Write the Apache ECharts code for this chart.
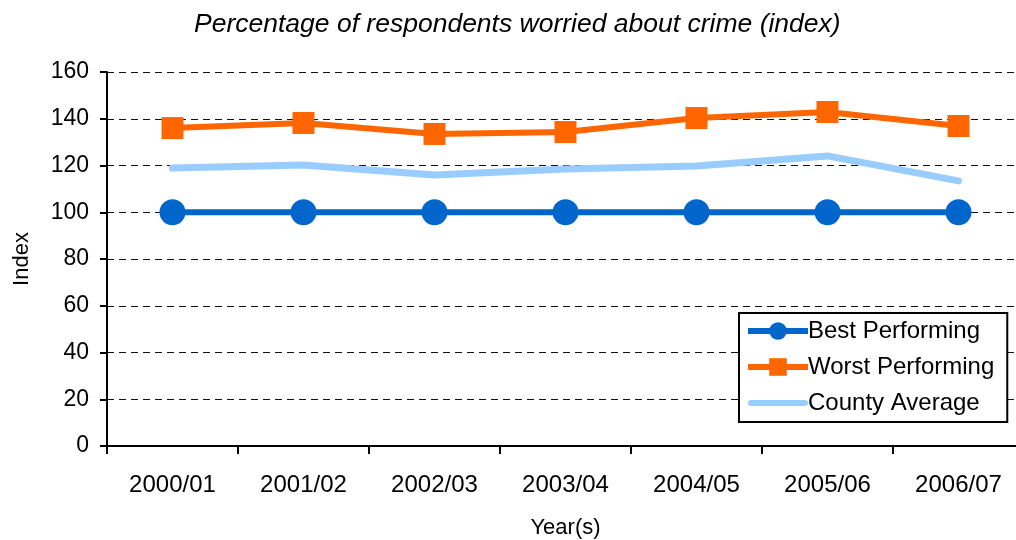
<!DOCTYPE html>
<html lang="en">
<head>
<meta charset="UTF-8">
<title>Worried about crime</title>
<script src="https://cdn.jsdelivr.net/npm/echarts@6/dist/echarts.min.js"></script>
<style>
  html, body { margin: 0; padding: 0; background: #fff; }
  #main { width: 1016px; height: 540px; }
</style>
</head>
<body>
<div id="main"></div>
<script>
  // categories and values
  var years = ['2000/01', '2001/02', '2002/03', '2003/04', '2004/05', '2005/06', '2006/07'];
  var bestPerforming = [100, 100, 100, 100, 100, 100, 100];
  var worstPerforming = [136, 138.2, 133.5, 134.3, 140.3, 142.9, 136.9];
  var countyAverage = [118.9, 120.2, 115.9, 118.5, 119.8, 124.1, 113.4];

  var font = 'Liberation Sans, Arial, sans-serif';

  var chart = echarts.init(document.getElementById('main'));
  chart.setOption({
    backgroundColor: '#fff',
    animation: false,
    title: {
      text: 'Percentage of respondents worried about crime (index)',
      left: 189,
      top: 6,
      textStyle: { fontFamily: font, fontSize: 26.5, fontStyle: 'italic', fontWeight: 'normal', color: '#000' }
    },
    // plot runs a little past the right edge of the window, as in the picture
    grid: { left: 107, width: 917, top: 72, bottom: 94, outerBoundsMode: 'none', containLabel: false },
    legend: {
      orient: 'vertical',
      left: 739,
      top: 313,
      padding: [6, 13, 7, 6],
      itemWidth: 60,
      itemHeight: 22,
      itemGap: 12,
      backgroundColor: '#fff',
      borderColor: '#000',
      borderWidth: 2,
      borderRadius: 0,
      textStyle: { fontFamily: font, fontSize: 24, color: '#000', padding: [0, 0, 0, -5] },
      data: [
        { name: 'Best Performing', lineStyle: { width: 6, color: '#0066CC' } },
        { name: 'Worst Performing', lineStyle: { width: 6, color: '#FF6600' } },
        {
          name: 'County Average',
          icon: 'path://M3,0 L57,0 A3,3 0 0 1 57,6 L3,6 A3,3 0 0 1 3,0 Z',
          itemStyle: { color: '#99CCFF' }
        }
      ]
    },
    xAxis: {
      type: 'category',
      data: years,
      boundaryGap: true,
      name: 'Year(s)',
      nameLocation: 'middle',
      nameGap: 71,
      nameTextStyle: { fontFamily: font, fontSize: 22, color: '#000' },
      axisLine: { lineStyle: { color: '#000', width: 2 } },
      axisTick: { show: true, length: 8, alignWithLabel: false, lineStyle: { color: '#000', width: 2 } },
      axisLabel: { fontFamily: font, fontSize: 24, color: '#000', margin: 27 },
      splitLine: { show: false }
    },
    yAxis: {
      type: 'value',
      min: 0,
      max: 160,
      interval: 20,
      name: 'Index',
      nameLocation: 'middle',
      nameGap: 74,
      nameTextStyle: { fontFamily: font, fontSize: 22, color: '#000' },
      axisLine: { show: true, lineStyle: { color: '#000', width: 2 } },
      axisTick: { show: true, length: 7, lineStyle: { color: '#000', width: 2 } },
      axisLabel: { fontFamily: font, fontSize: 23, color: '#000', margin: 18 },
      splitLine: { show: true, lineStyle: { color: '#111', width: 1, type: [7, 5] } }
    },
    series: [
      {
        name: 'Best Performing',
        type: 'line',
        data: bestPerforming,
        symbol: 'circle',
        symbolSize: 26,
        itemStyle: { color: '#0066CC' },
        lineStyle: { color: '#0066CC', width: 6 },
        z: 4
      },
      {
        name: 'Worst Performing',
        type: 'line',
        data: worstPerforming,
        symbol: 'rect',
        symbolSize: 22,
        itemStyle: { color: '#FF6600' },
        lineStyle: { color: '#FF6600', width: 6 },
        z: 3
      },
      {
        name: 'County Average',
        type: 'line',
        data: countyAverage,
        showSymbol: false,
        itemStyle: { color: '#99CCFF' },
        lineStyle: { color: '#99CCFF', width: 7, cap: 'round', join: 'round' },
        z: 2
      }
    ]
  });
</script>
</body>
</html>
